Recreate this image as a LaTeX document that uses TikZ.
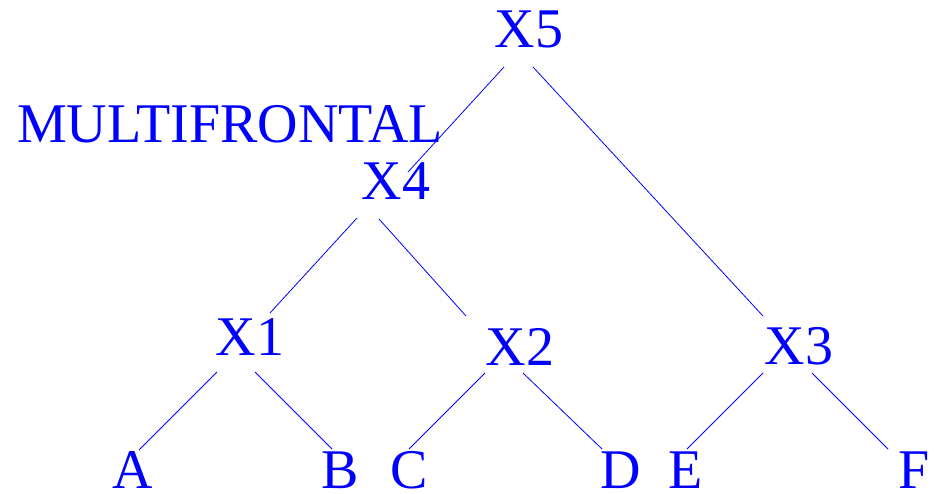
\documentclass[tikz,border=0pt]{standalone}
\usepackage{fontspec}
\setmainfont{Liberation Serif}
\definecolor{tblue}{RGB}{0,0,255}
\tikzset{
  lbl/.style={inner sep=0pt, anchor=base, text=tblue, font=\fontsize{56}{60}\selectfont},
  edge/.style={draw=tblue, line width=0.8pt}
}
\begin{document}
\begin{tikzpicture}[x=1pt,y=-1pt]
\useasboundingbox (0,0) rectangle (939,494);
\node[lbl] (x5) at (529,48) {X5};
\node[lbl] (x4) at (396,200) {X4};
\node[lbl] (x1) at (250,355) {X1};
\node[lbl] (x2) at (520,365) {X2};
\node[lbl] (x3) at (799,364) {X3};
\node[lbl] (a) at (133,488) {A};
\node[lbl] (b) at (340,488) {B};
\node[lbl] (c) at (409,488) {C};
\node[lbl] (d) at (621,488) {D};
\node[lbl] (e) at (686,488) {E};
\node[lbl] (f) at (914,488) {F};
\node[lbl, anchor=base west] (mf) at (17,143) {MULTIFRONTAL};
\draw[edge] ([xshift=-25pt,yshift=-19pt]x5.base) -- ([xshift=12pt,yshift=28pt]x4.base);
\draw[edge] ([xshift=4pt,yshift=-19pt]x5.base) -- ([xshift=-36pt,yshift=48pt]x3.base);
\draw[edge] ([xshift=-39pt,yshift=-18pt]x4.base) -- ([xshift=20pt,yshift=42pt]x1.base);
\draw[edge] ([xshift=-17pt,yshift=-19pt]x4.base) -- ([xshift=-54pt,yshift=49pt]x2.base);
\draw[edge] ([xshift=-33pt,yshift=-17pt]x1.base) -- ([xshift=6pt,yshift=38pt]a.base);
\draw[edge] ([xshift=5pt,yshift=-17pt]x1.base) -- ([xshift=-8pt,yshift=39pt]b.base);
\draw[edge] ([xshift=-35pt,yshift=-8pt]x2.base) -- ([xshift=0pt,yshift=39pt]c.base);
\draw[edge] ([xshift=3pt,yshift=-8pt]x2.base) -- ([xshift=-19pt,yshift=39pt]d.base);
\draw[edge] ([xshift=-36pt,yshift=-9pt]x3.base) -- ([xshift=1pt,yshift=39pt]e.base);
\draw[edge] ([xshift=13pt,yshift=-9pt]x3.base) -- ([xshift=-26pt,yshift=39pt]f.base);
\end{tikzpicture}
\end{document}
